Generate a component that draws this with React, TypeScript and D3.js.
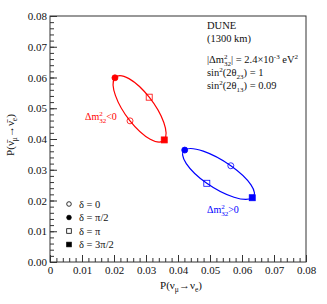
import * as d3 from 'd3'
import { useEffect, useRef } from 'react'

// delta values (order around each ellipse)
const deltaLabels = ['δ = 0', 'δ = π/2', 'δ = π', 'δ = 3π/2']
const markerKinds = ['openCircle', 'filledCircle', 'openSquare', 'filledSquare']

// normal hierarchy (blue)
const nhX = [0.0565, 0.0421, 0.049, 0.0632]
const nhY = [0.0313, 0.0364, 0.0256, 0.0209]

// inverted hierarchy (red)
const ihX = [0.025, 0.0203, 0.031, 0.0357]
const ihY = [0.0459, 0.0599, 0.0536, 0.0397]

const xTicks = [0, 0.01, 0.02, 0.03, 0.04, 0.05, 0.06, 0.07, 0.08]
const xTickLabels = ['0', '0.01', '0.02', '0.03', '0.04', '0.05', '0.06', '0.07', '0.08']
const yTicks = [0, 0.01, 0.02, 0.03, 0.04, 0.05, 0.06, 0.07, 0.08]
const yTickLabels = ['0.00', '0.01', '0.02', '0.03', '0.04', '0.05', '0.06', '0.07', '0.08']
const minorTicks = d3.range(0, 41).map(i => i * 0.002)

const FONT = '"Liberation Serif", "DejaVu Serif", serif'

export default function App() {
  const ref = useRef<SVGSVGElement>(null)

  useEffect(() => {
    const width = 327
    const height = 304
    const margin = { top: 16, right: 21, bottom: 42, left: 50 }
    const w = width - margin.left - margin.right
    const h = height - margin.top - margin.bottom

    const svg = d3.select(ref.current)
    svg.selectAll('*').remove()

    const g = svg.append('g').attr('transform', `translate(${margin.left},${margin.top})`)

    const x = d3.scaleLinear().domain([0, 0.08]).range([0, w])
    const y = d3.scaleLinear().domain([0, 0.08]).range([h, 0])

    // frame
    g.append('rect')
      .attr('width', w).attr('height', h)
      .attr('fill', 'none').attr('stroke', '#333').attr('stroke-width', 1)

    // minor ticks
    g.append('g').attr('transform', `translate(0,${h})`)
      .call(d3.axisBottom(x).tickValues(minorTicks).tickSize(-4).tickFormat(() => ''))
    g.append('g')
      .call(d3.axisLeft(y).tickValues(minorTicks).tickSize(-4).tickFormat(() => ''))

    // major ticks + labels
    g.append('g').attr('transform', `translate(0,${h})`)
      .call(d3.axisBottom(x).tickValues(xTicks).tickSize(-7).tickPadding(4)
        .tickFormat((d, i) => xTickLabels[i]))
    g.append('g')
      .call(d3.axisLeft(y).tickValues(yTicks).tickSize(-7).tickPadding(3)
        .tickFormat((d, i) => yTickLabels[i]))

    g.selectAll('.domain').remove()
    g.selectAll('.tick line').attr('stroke', '#333')
    g.selectAll('.tick text')
      .style('font-family', FONT).style('font-size', '11px').attr('fill', '#111')

    // ellipses through the four delta points
    const ellipse = d3.line().curve(d3.curveCardinalClosed.tension(-0.657))

    const drawSet = (xs: number[], ys: number[], color: string) => {
      const pts = xs.map((v, i) => [x(v), y(ys[i])] as [number, number])
      g.append('path')
        .attr('d', ellipse(pts))
        .attr('fill', 'none').attr('stroke', color).attr('stroke-width', 1.2)
      pts.forEach((p, i) => drawMarker(g, markerKinds[i], p[0], p[1], color, 3, 6))
    }

    drawSet(ihX, ihY, '#ff0000')
    drawSet(nhX, nhY, '#0000ff')

    // hierarchy labels
    const hierLabel = (px: number, py: number, sign: string, color: string) => {
      const t = svg.append('text')
        .attr('x', px).attr('y', py)
        .style('font-family', FONT).style('font-size', '10px').attr('fill', color)
      t.append('tspan').text('Δm')
      t.append('tspan').style('font-size', '7px').attr('dy', -4.5).text('2')
      t.append('tspan').style('font-size', '7px').attr('dx', -3.5).attr('dy', 7.5).text('32')
      t.append('tspan').attr('dy', -3).text(sign + '0')
    }
    hierLabel(85, 120, '<', '#ff0000')
    hierLabel(207, 213, '>', '#0000ff')

    // info box
    const info = svg.append('g').style('font-family', FONT).style('font-size', '10.5px').attr('fill', '#111')
    info.append('text').attr('x', 207).attr('y', 29).text('DUNE')
    info.append('text').attr('x', 207).attr('y', 41.7).text('(1300 km)')
    const t1 = info.append('text').attr('x', 207).attr('y', 63)
    t1.append('tspan').text('|Δm')
    t1.append('tspan').style('font-size', '7px').attr('dy', -4.5).text('2')
    t1.append('tspan').style('font-size', '7px').attr('dx', -3.5).attr('dy', 7).text('32')
    t1.append('tspan').attr('dy', -2.5).text('| = 2.4×10')
    t1.append('tspan').style('font-size', '7px').attr('dy', -4.5).text('-3')
    t1.append('tspan').attr('dy', 4.5).text(' eV')
    t1.append('tspan').style('font-size', '7px').attr('dy', -4.5).text('2')
    const sinLine = (py: number, sub: string, val: string) => {
      const t = info.append('text').attr('x', 207).attr('y', py)
      t.append('tspan').text('sin')
      t.append('tspan').style('font-size', '7px').attr('dy', -4).text('2')
      t.append('tspan').attr('dy', 4).text('(2θ')
      t.append('tspan').style('font-size', '7px').attr('dy', 3).text(sub)
      t.append('tspan').attr('dy', -3).text(') = ' + val)
    }
    sinLine(75.5, '23', '1')
    sinLine(88.5, '13', '0.09')

    // legend
    const legY = [204, 217.5, 231, 244.5]
    deltaLabels.forEach((lab, i) => {
      drawMarker(svg, markerKinds[i], 69, legY[i], '#000', 2.3, 4.6)
      svg.append('text')
        .attr('x', 79).attr('y', legY[i] + 3.5)
        .style('font-family', FONT).style('font-size', '10.5px').attr('fill', '#111')
        .text(lab)
    })

    // axis titles
    const xt = svg.append('text')
      .attr('x', margin.left + w / 2 + 3).attr('y', 289)
      .attr('text-anchor', 'middle')
      .style('font-family', FONT).style('font-size', '11px').attr('fill', '#111')
    xt.append('tspan').text('P(ν')
    xt.append('tspan').style('font-size', '7.5px').attr('dy', 3).text('μ')
    xt.append('tspan').attr('dy', -3).text('→ν')
    xt.append('tspan').style('font-size', '7.5px').attr('dy', 3).text('e')
    xt.append('tspan').attr('dy', -3).text(')')

    const yt = svg.append('text')
      .attr('transform', `translate(14,${margin.top + h / 2 - 4}) rotate(-90)`)
      .attr('text-anchor', 'middle')
      .style('font-family', FONT).style('font-size', '11px').attr('fill', '#111')
    yt.append('tspan').text('P(ν\u0304')
    yt.append('tspan').style('font-size', '7.5px').attr('dy', 3).text('μ')
    yt.append('tspan').attr('dy', -3).text('→ν\u0304')
    yt.append('tspan').style('font-size', '7.5px').attr('dy', 3).text('e')
    yt.append('tspan').attr('dy', -3).text(')')
  }, [])

  return (
    <svg
      ref={ref}
      width={327}
      height={304}
      style={{ position: 'absolute', left: 0, top: 0, background: '#fff' }}
    />
  )
}

function drawMarker(
  parent: d3.Selection<any, unknown, null, undefined>,
  kind: string,
  cx: number,
  cy: number,
  color: string,
  r: number,
  side: number
) {
  const filled = kind.startsWith('filled')
  if (kind.endsWith('Circle')) {
    parent.append('circle')
      .attr('cx', cx).attr('cy', cy).attr('r', r)
      .attr('fill', filled ? color : 'none')
      .attr('stroke', color).attr('stroke-width', 0.8)
  } else {
    parent.append('rect')
      .attr('x', cx - side / 2).attr('y', cy - side / 2)
      .attr('width', side).attr('height', side)
      .attr('fill', filled ? color : 'none')
      .attr('stroke', color).attr('stroke-width', 0.8)
  }
}
